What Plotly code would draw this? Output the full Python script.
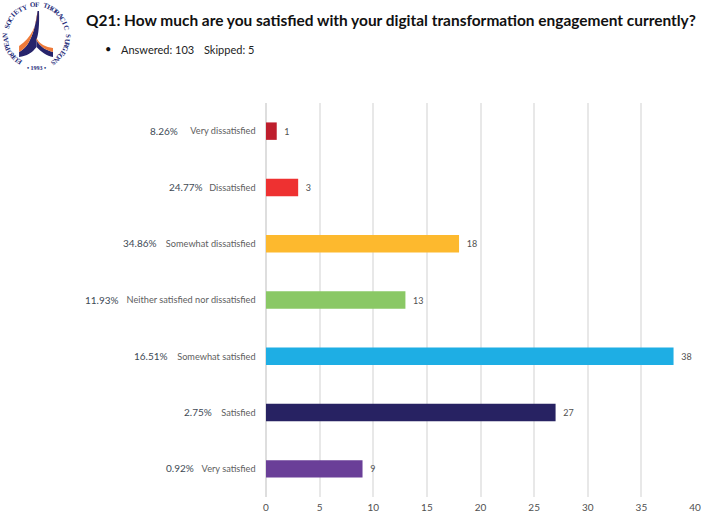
import math
import plotly.graph_objects as go

W, H = 701, 514

categories = ["Very dissatisfied", "Dissatisfied", "Somewhat dissatisfied",
              "Neither satisfied nor dissatisfied", "Somewhat satisfied",
              "Satisfied", "Very satisfied"]
counts = [1, 3, 18, 13, 38, 27, 9]
percent_labels = ["8.26%", "24.77%", "34.86%", "11.93%", "16.51%", "2.75%", "0.92%"]
percent_right_px = [179, 204, 158, 120, 169, 213, 195]
bar_colors = ["#BE1E2D", "#EE3131", "#FDB92E", "#8AC865", "#1EAEE4", "#272262", "#6A3F98"]
x_ticks = [0, 5, 10, 15, 20, 25, 30, 35, 40]

PLOT_L, PLOT_R, PLOT_T, PLOT_B = 265.5, 695.5, 103, 497


# page pixels to paper fractions of the plot area
def px(x):
    return (x - PLOT_L) / (PLOT_R - PLOT_L)


def py(y):
    return (PLOT_B - y) / (PLOT_B - PLOT_T)


fig = go.Figure(go.Bar(
    y=categories, x=counts, orientation="h",
    marker=dict(color=bar_colors, line_width=0),
    text=[f"\u00a0\u00a0{c}" for c in counts], textposition="outside", cliponaxis=False,
    textfont=dict(family="Lato", size=9, color="#505050"),
    width=0.31,
))


def label(text, x, y, family, size, color, anchor="left", angle=0):
    return dict(text=text, x=px(x), y=py(y), xref="paper", yref="paper", xanchor=anchor, yanchor="middle",
                showarrow=False, textangle=angle, font=dict(family=family, size=size, color=color))


annotations = [
    label("<b>Q21: How much are you satisfied with your digital transformation engagement currently?</b>",
          83, 20, "Lato", 15.45, "#111111"),
    label("•", 102, 49, "Lato", 11, "#111111"),
    label("Answered: 103", 118, 49.5, "Lato", 11, "#222222"),
    label("Skipped: 5", 201, 49.5, "Lato", 11, "#222222"),
]

# percentage column to the left of the category names
row_step = (PLOT_B - PLOT_T) / len(categories)
for i, (text, right) in enumerate(zip(percent_labels, percent_right_px)):
    annotations.append(label(text, right, PLOT_T + row_step * (i + 0.5) - 0.5, "Lato", 10, "#404A55", "right"))

# society emblem: lettering set on a ring, one rotated character at a time
CX, CY, RING = 35.5, 36, 31
motto = "EUROPEAN SOCIETY OF THORACIC SURGEONS"
start, end = -146, 148
for i, ch in enumerate(motto):
    if ch == " ":
        continue
    a = start + (end - start) * i / (len(motto) - 1)
    ar = math.radians(a)
    annotations.append(label(f"<b>{ch}</b>", CX + RING * math.sin(ar), CY - RING * math.cos(ar),
                             "Liberation Serif", 7, "#1E2A78", "center", a))
annotations.append(label("<b>• 1993 •</b>", CX, 68, "Liberation Serif", 6, "#1E2A78", "center"))


def curve_path(d):
    out = []
    for tok in d:
        if isinstance(tok, str):
            out.append(tok)
        else:
            out.append(f"{px(tok[0]):.4f},{py(tok[1]):.4f}")
    return " ".join(out)


def emblem(d, color):
    return dict(type="path", xref="paper", yref="paper", line_width=0, fillcolor=color, path=curve_path(d))


shapes = [
    # navy underside of the two wings
    emblem(["M", (36.5, 11), "L", (38, 11), "C", (38.5, 25), (37.5, 34), (35.5, 40), "L", (35.5, 47),
            "C", (31, 53), (26, 56), (18, 57), "L", (18, 52), "C", (26, 48), (33, 38), (36.5, 11), "Z"], "#27246B"),
    emblem(["M", (35.5, 40), "C", (39, 47), (45, 50), (52, 52), "L", (52, 57),
            "C", (46, 56), (40, 52), (35.5, 47), "Z"], "#27246B"),
    # orange upper face of the two wings
    emblem(["M", (36.5, 11), "C", (36, 26), (30, 38), (18, 46), "L", (18, 52),
            "C", (26, 48), (33, 38), (36.5, 11), "Z"], "#EE7B3A"),
    emblem(["M", (35.5, 38), "C", (38, 44), (45, 47), (52, 48), "L", (52, 52),
            "C", (45, 50), (39, 47), (35.5, 40), "Z"], "#EE7B3A"),
]

fig.update_layout(
    width=W, height=H, autosize=False, paper_bgcolor="white", plot_bgcolor="white",
    margin=dict(l=PLOT_L, r=W - PLOT_R, t=PLOT_T, b=H - PLOT_B, pad=0, autoexpand=False),
    showlegend=False, annotations=annotations, shapes=shapes,
    xaxis=dict(range=[0, 40], tickvals=x_ticks, showgrid=True, gridcolor="#E8E8E8", gridwidth=1.5,
               zeroline=True, zerolinecolor="#DEDEDE", zerolinewidth=1.5, showline=False, ticks="",
               automargin=False, ticklabelstandoff=3, tickfont=dict(family="Lato", size=10, color="#505050")),
    yaxis=dict(autorange="reversed", showgrid=False, zeroline=False, showline=False, ticks="",
               ticksuffix="    ", automargin=False,
               tickfont=dict(family="Lato", size=9.2, color="#606060")),
)

fig.write_html("out.html")
